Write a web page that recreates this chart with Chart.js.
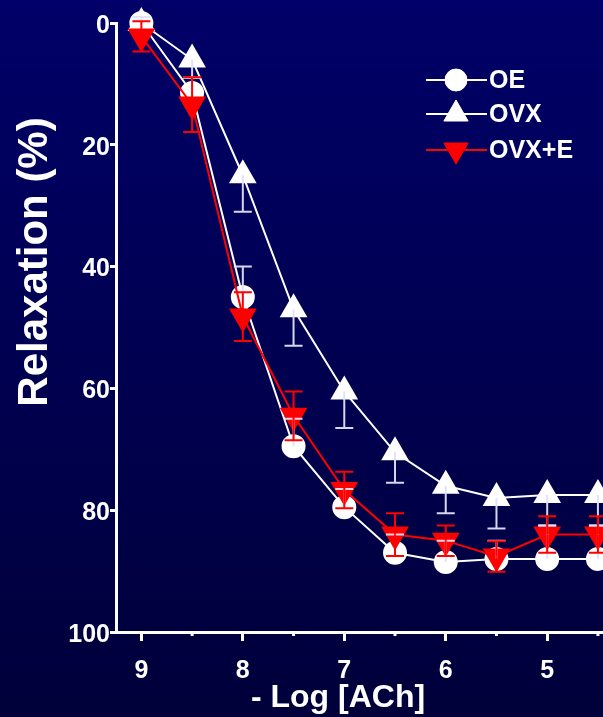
<!DOCTYPE html>
<html>
<head>
<meta charset="utf-8">
<script src="https://cdn.jsdelivr.net/npm/chart.js"></script>
<style>
  html, body { margin: 0; padding: 0; background: #000050; }
  #wrap { width: 603px; height: 717px; position: relative; }
</style>
</head>
<body>
<div id="wrap"><canvas id="myChart" width="603" height="717"></canvas></div>
<script>
// -Log [ACh] doses
const doses = [9, 8.5, 8, 7.5, 7, 6.5, 6, 5.5, 5, 4.5];

// relaxation (%) per group
const oeValues = [0, 11.5, 45, 69.5, 79.5, 87, 88.5, 88, 88, 88];
const ovxValues = [0, 6, 25, 47, 60.5, 70.5, 76, 78, 77.5, 77.5];
const ovxeValues = [2.2, 13.4, 48.2, 64.5, 76.7, 84, 85, 87.6, 84, 84];

// SEM
const oeErr = [1, 2.5, 5, 4.5, 3, 3, 3.5, 3, 5.5, 5.5];
const ovxErr = [0, 3, 6, 6, 6, 5, 4.5, 5, 5, 5];
const ovxeErr = [2.5, 4.5, 4, 4, 3, 3.5, 2.5, 2.5, 3, 3];

const yTicks = [0, 20, 40, 60, 80, 100];
const xTicks = [9, 8.5, 8, 7.5, 7, 6.5, 6, 5.5, 5, 4.5];

const FONT = "'Liberation Sans', Arial, sans-serif";
const WHITE = "#ffffff";
const RED = "#ff0000";

function pts(vals) {
  return doses.map(function (d, i) { return { x: d, y: vals[i] }; });
}

// background gradient
const bgPlugin = {
  id: "bg",
  beforeDraw: function (chart) {
    const ctx = chart.ctx;
    const g = ctx.createLinearGradient(0, 0, 0, chart.height);
    g.addColorStop(0, "#000068");
    g.addColorStop(1, "#00003a");
    ctx.save();
    ctx.fillStyle = g;
    ctx.fillRect(0, 0, chart.width, chart.height);
    ctx.restore();
  }
};

// error bars: dir -1 = above only, 1 = below only, 0 = both
const errPlugin = {
  id: "errbars",
  afterDatasetsDraw: function (chart) {
    const ctx = chart.ctx;
    const ys = chart.scales.y;
    chart.data.datasets.forEach(function (ds, i) {
      const meta = chart.getDatasetMeta(i);
      ctx.save();
      ctx.strokeStyle = ds.errColor;
      ctx.lineWidth = 2;
      meta.data.forEach(function (el, j) {
        const e = ds.err[j];
        if (!e) return;
        const v = ds.data[j].y;
        const ends = ds.errDir === 0 ? [v - e, v + e] : [v + ds.errDir * e];
        ends.forEach(function (end) {
          const py = ys.getPixelForValue(end);
          ctx.beginPath();
          ctx.moveTo(el.x, el.y);
          ctx.lineTo(el.x, py);
          ctx.moveTo(el.x - 9, py);
          ctx.lineTo(el.x + 9, py);
          ctx.stroke();
        });
      });
      ctx.restore();
    });
  }
};

// titles, minor ticks and legend
const decoPlugin = {
  id: "deco",
  afterDraw: function (chart) {
    const ctx = chart.ctx;
    const xs = chart.scales.x;
    const area = chart.chartArea;
    ctx.save();
    // minor ticks
    ctx.strokeStyle = WHITE;
    ctx.lineWidth = 3;
    xTicks.forEach(function (t) {
      if (t % 1 === 0) return;
      const px = xs.getPixelForValue(t);
      ctx.beginPath();
      ctx.moveTo(px, area.bottom);
      ctx.lineTo(px, area.bottom + 4);
      ctx.stroke();
    });

    ctx.fillStyle = WHITE;
    ctx.textAlign = "center";
    ctx.textBaseline = "middle";
    ctx.font = "bold 32px " + FONT;
    ctx.fillText("- Log [ACh]", 338, 698);

    ctx.save();
    ctx.translate(35, 262);
    ctx.rotate(-Math.PI / 2);
    ctx.font = "bold 42px " + FONT;
    ctx.fillText("Relaxation (%)", 0, 0);
    ctx.restore();

    // legend
    const rows = [80, 114, 150];
    chart.data.datasets.forEach(function (ds, i) {
      const y = rows[i];
      ctx.strokeStyle = ds.borderColor;
      ctx.lineWidth = 2;
      ctx.beginPath();
      ctx.moveTo(426, y);
      ctx.lineTo(487, y);
      ctx.stroke();
      ctx.fillStyle = ds.pointBackgroundColor;
      ctx.strokeStyle = ds.pointBorderColor;
      ctx.lineWidth = 1;
      Chart.helpers.drawPoint(ctx, {
        pointStyle: ds.pointStyle,
        radius: ds.pointRadius,
        rotation: ds.pointRotation || 0,
        borderWidth: 1
      }, 456, y);
      ctx.fillStyle = WHITE;
      ctx.font = "bold 25px " + FONT;
      ctx.textAlign = "left";
      ctx.fillText(ds.label, 489, y + 1);
    });
    ctx.restore();
  }
};

new Chart("myChart", {
  type: "line",
  data: {
    datasets: [
      {
        label: "OE",
        data: pts(oeValues),
        err: oeErr,
        errDir: -1,
        errColor: "rgba(225,225,245,0.95)",
        borderColor: WHITE,
        backgroundColor: WHITE,
        pointBackgroundColor: WHITE,
        pointBorderColor: WHITE,
        pointStyle: "circle",
        pointRadius: 11,
        borderWidth: 2,
        order: 2
      },
      {
        label: "OVX",
        data: pts(ovxValues),
        err: ovxErr,
        errDir: 1,
        errColor: "rgba(225,225,245,0.95)",
        borderColor: WHITE,
        backgroundColor: WHITE,
        pointBackgroundColor: WHITE,
        pointBorderColor: WHITE,
        pointStyle: "triangle",
        pointRadius: 14,
        borderWidth: 2,
        order: 3
      },
      {
        label: "OVX+E",
        data: pts(ovxeValues),
        err: ovxeErr,
        errDir: 0,
        errColor: RED,
        borderColor: RED,
        backgroundColor: RED,
        pointBackgroundColor: RED,
        pointBorderColor: RED,
        pointStyle: "triangle",
        pointRotation: 180,
        pointRadius: 14,
        borderWidth: 2,
        order: 1
      }
    ]
  },
  options: {
    responsive: false,
    animation: false,
    clip: false,
    layout: { autoPadding: false, padding: { top: 23, right: 0, left: 0, bottom: 0 } },
    plugins: {
      legend: { display: false },
      title: { display: false },
      tooltip: { enabled: false }
    },
    elements: { line: { tension: 0 }, point: { hoverRadius: 14 } },
    scales: {
      x: {
        type: "linear",
        reverse: true,
        min: 4.45,
        max: 9.25,
        afterBuildTicks: function (scale) {
          scale.ticks = xTicks.map(function (v) { return { value: v }; });
        },
        afterFit: function (scale) {
          scale.height = 85;
          scale.paddingLeft = 0;
          scale.paddingRight = 0;
        },
        border: { display: true, color: WHITE, width: 3 },
        grid: {
          drawOnChartArea: false,
          drawTicks: true,
          tickLength: 9,
          tickWidth: 3,
          tickColor: function (c) {
            return c.tick && c.tick.value % 1 === 0 ? WHITE : "rgba(0,0,0,0)";
          }
        },
        ticks: {
          color: WHITE,
          padding: 15,
          autoSkip: false,
          maxRotation: 0,
          font: { family: FONT, size: 25, weight: "bold" },
          callback: function (v) { return v % 1 === 0 ? String(v) : ""; }
        }
      },
      y: {
        type: "linear",
        reverse: true,
        min: 0,
        max: 100,
        afterBuildTicks: function (scale) {
          scale.ticks = yTicks.map(function (v) { return { value: v }; });
        },
        afterFit: function (scale) {
          scale.width = 116;
          scale.paddingTop = 0;
          scale.paddingBottom = 0;
        },
        border: { display: true, color: WHITE, width: 3 },
        grid: {
          drawOnChartArea: false,
          drawTicks: true,
          tickLength: 6,
          tickWidth: 3,
          tickColor: WHITE
        },
        ticks: {
          color: WHITE,
          padding: 0,
          labelOffset: 3,
          font: { family: FONT, size: 25, weight: "bold" }
        }
      }
    }
  },
  plugins: [bgPlugin, errPlugin, decoPlugin]
});
</script>
</body>
</html>
